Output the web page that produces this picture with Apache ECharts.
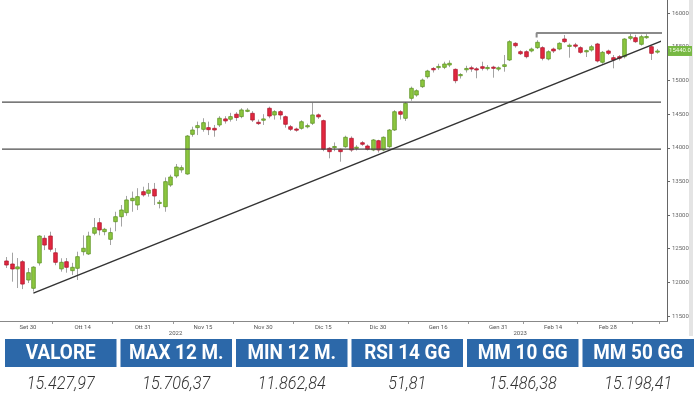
<!DOCTYPE html>
<html><head><meta charset="utf-8">
<script src="https://cdn.jsdelivr.net/npm/echarts/dist/echarts.min.js"></script>
<style>html,body{margin:0;padding:0;background:#fff}#c{width:700px;height:400px}</style>
</head><body><div id="c"></div>
<script>
// ---- data ----
const startDate = '2022-09-26';
const dayCount = 120;
const holidays = ['2022-12-26'];
const monthNames = ['Gen','Feb','Mar','Apr','Mag','Giu','Lug','Ago','Set','Ott','Nov','Dic'];
const tickLabels = ['Set 30','Ott 14','Ott 31','Nov 15','Nov 30','Dic 15','Dic 30','Gen 16','Gen 31','Feb 14','Feb 28'];
const yearLabels = {'Nov 8':'2022','Feb 6':'2023'};

const opens  = [12318,12273,12200,12307,12035,11912,12288,12655,12689,12440,12200,12307,12174,12209,12456,12422,12730,12887,12754,12640,
12902,12976,13036,13214,13150,13348,13324,13384,13175,13125,13447,13581,13672,13611,14201,14300,14275,14300,14290,14340,
14430,14425,14500,14464,14545,14513,14380,14410,14588,14488,14538,14463,14314,14280,14290,14315,14365,14490,14404,13993,
14005,13978,14017,14142,13995,14076,14027,13968,14106,13968,14017,14265,14537,14439,14736,14785,14909,15057,15180,15200,
15197,15231,15167,15072,15160,15190,15175,15206,15185,15200,15170,15210,15306,15554,15429,15429,15440,15489,15489,15321,
15469,15469,15618,15510,15530,15489,15435,15454,15544,15272,15440,15340,15355,15355,15628,15637,15539,15645,15503,15429];
const closes = [12258,12199,12230,11975,12144,12227,12689,12555,12492,12298,12298,12224,12224,12382,12507,12689,12813,12779,12789,12740,
12976,13076,13225,13250,13274,13300,13373,13284,13190,13497,13566,13715,13705,14176,14265,14330,14374,14270,14265,14440,
14400,14464,14450,14563,14560,14414,14360,14430,14473,14538,14488,14350,14276,14262,14388,14330,14489,14460,13978,13943,
14020,13943,14157,13968,14010,14053,13978,14117,13968,14157,14265,14537,14499,14662,14885,14849,15008,15142,15160,15210,
15246,15257,14998,15090,15180,15175,15160,15182,15195,15185,15190,15235,15578,15518,15399,15355,15469,15569,15331,15429,
15440,15554,15578,15525,15510,15420,15445,15503,15291,15420,15405,15306,15331,15618,15652,15578,15652,15655,15405,15440];
const lows   = [12214,12010,11916,11900,11990,11863,12250,12480,12456,12255,12159,12144,12110,12035,12400,12407,12700,12700,12700,12555,
12760,12830,12990,13050,13075,13274,13274,13150,13100,13050,13420,13550,13630,13600,14166,14190,14240,14190,14165,14310,
14360,14390,14400,14440,14530,14385,14340,14340,14440,14420,14420,14300,14250,14240,14270,14290,14340,14430,13950,13844,
13950,13794,14000,13940,13960,14030,13960,13950,13930,13950,14000,14250,14420,14400,14700,14760,14890,15030,15120,15160,
15170,15200,14960,15030,15120,15130,15034,15150,15150,15043,15140,15132,15290,15490,15380,15330,15420,15470,15300,15300,
15410,15450,15560,15340,15480,15400,15350,15430,15270,15250,15380,15182,15300,15330,15600,15560,15520,15620,15306,15400];
const highs  = [12377,12441,12362,12330,12214,12240,12700,12700,12753,12510,12358,12362,12290,12456,12700,12753,12957,12957,12810,12813,
13050,13150,13285,13350,13400,13422,13478,13478,13225,13560,13600,13760,13740,14190,14314,14390,14440,14390,14340,14470,
14470,14520,14530,14588,14590,14545,14420,14500,14612,14560,14560,14480,14340,14300,14410,14360,14671,14510,14420,14010,
14080,13990,14180,14170,14040,14100,14050,14130,14120,14170,14280,14560,14560,14680,14910,14870,15030,15160,15200,15250,
15280,15300,15180,15110,15220,15220,15200,15280,15230,15220,15210,15380,15600,15570,15450,15450,15490,15600,15510,15450,
15490,15570,15677,15550,15560,15510,15460,15530,15560,15440,15460,15380,15380,15630,15706,15680,15680,15690,15520,15470];

const trendLine = [[5, 11840], [121, 15625]];
const levelLow  = [[-1, 13980], [121, 13980]];
const levelMid  = [[-1, 14680], [121, 14680]];
const levelTop  = [[97, 15640], [97, 15706], [121, 15706]];
const lastPrice = 15440.0;

const headers = ['VALORE','MAX 12 M.','MIN 12 M.','RSI 14 GG','MM 10 GG','MM 50 GG'];
const values  = ['15.427,97','15.706,37','11.862,84','51,81','15.486,38','15.198,41'];

// ---- categories (trading days) ----
const categories = [];
{
  const d = new Date(startDate + 'T00:00:00Z');
  while (categories.length < dayCount) {
    const wd = d.getUTCDay();
    const iso = d.toISOString().slice(0,10);
    if (wd !== 0 && wd !== 6 && holidays.indexOf(iso) < 0) {
      categories.push(monthNames[d.getUTCMonth()] + ' ' + d.getUTCDate());
    }
    d.setUTCDate(d.getUTCDate() + 1);
  }
}
const labelIdx = tickLabels.map(t => categories.indexOf(t));
const tickSet = new Set();
for (let k = 0; k < labelIdx.length - 1; k++) tickSet.add(Math.round((labelIdx[k] + labelIdx[k+1]) / 2));
tickSet.add(labelIdx[labelIdx.length-1] + 5);

const candleData = opens.map((o, i) => [i, o, closes[i], lows[i], highs[i]]);

const chart = echarts.init(document.getElementById('c'), null, {renderer: 'canvas'});
const FONT = 'Roboto, "DejaVu Sans", sans-serif';

function renderCandle(params, api) {
  const i = api.value(0);
  const o = api.value(1), c = api.value(2), l = api.value(3), h = api.value(4);
  const pO = api.coord([i, o]), pC = api.coord([i, c]), pL = api.coord([i, l]), pH = api.coord([i, h]);
  const x = Math.round(pO[0]) + 0.5;
  const bw = 3.6;
  const up = c >= o;
  const top = Math.min(pO[1], pC[1]);
  const bot = Math.max(pO[1], pC[1]);
  return {
    type: 'group',
    children: [
      {type: 'line', shape: {x1: x, y1: pH[1], x2: x, y2: pL[1]}, style: {stroke: '#a3a3a3', lineWidth: 1}},
      {type: 'rect', shape: {x: x - bw / 2, y: top, width: bw, height: Math.max(bot - top, 1.2)},
       style: {fill: up ? '#8cc63f' : '#e2273f', stroke: up ? '#5f9626' : '#b01b31', lineWidth: 0.8}}
    ]
  };
}

const lineStyle = (color, w) => ({type: 'line', xAxisIndex: 0, yAxisIndex: 0, symbol: 'none', clip: false, silent: true,
  lineStyle: {color: color, width: w}, animation: false, z: 5});

const option = {
  animation: false,
  backgroundColor: '#ffffff',
  grid: {left: 3.3, right: 40.3, top: 13.3, bottom: 84, containLabel: false, outerBoundsMode: 'none'},
  xAxis: [{
    type: 'category', data: categories, boundaryGap: true, offset: 5,
    axisLine: {show: false},
    axisTick: {show: true, length: 3, interval: (idx) => tickSet.has(idx), lineStyle: {color: '#9a9a9a'}},
    axisLabel: {interval: (idx, val) => tickLabels.indexOf(val) >= 0, fontSize: 6, color: '#555', margin: 3, fontFamily: FONT},
    splitLine: {show: false}
  }, {
    type: 'category', data: categories, boundaryGap: true, position: 'bottom', offset: 12,
    axisLine: {show: false}, axisTick: {show: false},
    axisLabel: {interval: (idx, val) => yearLabels[val] !== undefined, formatter: (val) => yearLabels[val] || '',
      fontSize: 6, color: '#555', margin: 2, fontFamily: FONT},
    splitLine: {show: false}
  }],
  yAxis: {
    type: 'value', position: 'right', min: 11500, max: 16000, interval: 500, offset: 7.3,
    axisLine: {show: false},
    axisTick: {show: true, length: 3, lineStyle: {color: '#666'}},
    axisLabel: {fontSize: 6, color: '#666', margin: 5, fontFamily: FONT, formatter: (v) => String(v)},
    splitLine: {show: false}
  },
  series: [
    Object.assign(lineStyle('#4d4d4d', 1.2), {data: levelMid}),
    Object.assign(lineStyle('#4d4d4d', 1.2), {data: levelLow}),
    Object.assign(lineStyle('#8a8a8a', 2), {data: levelTop}),
    {type: 'custom', renderItem: renderCandle, data: candleData, encode: {x: 0, y: [1, 2, 3, 4]}, z: 3, clip: false},
    Object.assign(lineStyle('#333333', 1.5), {data: trendLine, z: 6})
  ]
};
chart.setOption(option);

// frame, price tag and table
const yTag = chart.convertToPixel({yAxisIndex: 0}, lastPrice);
const g = [];
g.push({type: 'line', shape: {x1: 667.5, y1: 0, x2: 667.5, y2: 321}, style: {stroke: '#666', lineWidth: 1}, z: 10});
g.push({type: 'line', shape: {x1: 0, y1: 321.5, x2: 668, y2: 321.5}, style: {stroke: '#888', lineWidth: 1}, z: 10});
g.push({type: 'rect', shape: {x: 689, y: 0, width: 4, height: 336}, style: {fill: '#e4e4e4'}, z: 1});
g.push({type: 'rect', shape: {x: 668, y: yTag - 5, width: 24, height: 10}, style: {fill: '#77b843'}, z: 20});
g.push({type: 'text', x: 680, y: yTag, style: {text: lastPrice.toFixed(1), fill: '#f4ffe8', font: '6px ' + FONT, align: 'center', verticalAlign: 'middle'}, z: 21});

const cellW = 111.5, cellGap = 4, cellX0 = 5;
headers.forEach((h, k) => {
  const x = cellX0 + k * (cellW + cellGap);
  g.push({type: 'rect', shape: {x: x, y: 339, width: cellW, height: 28}, style: {fill: '#2c68a9'}, z: 30});
  g.push({type: 'text', x: x + cellW / 2, y: 354, scaleX: 0.9,
    style: {text: h, fill: '#ffffff', font: 'bold 21px ' + FONT, align: 'center', verticalAlign: 'middle'}, z: 31});
  g.push({type: 'text', x: x + cellW / 2, y: 384, scaleX: 0.9,
    style: {text: values[k], fill: '#333333', font: 'italic 300 18px ' + FONT, align: 'center', verticalAlign: 'middle'}, z: 31});
});
chart.setOption({graphic: {elements: g}});
</script>
</body></html>
